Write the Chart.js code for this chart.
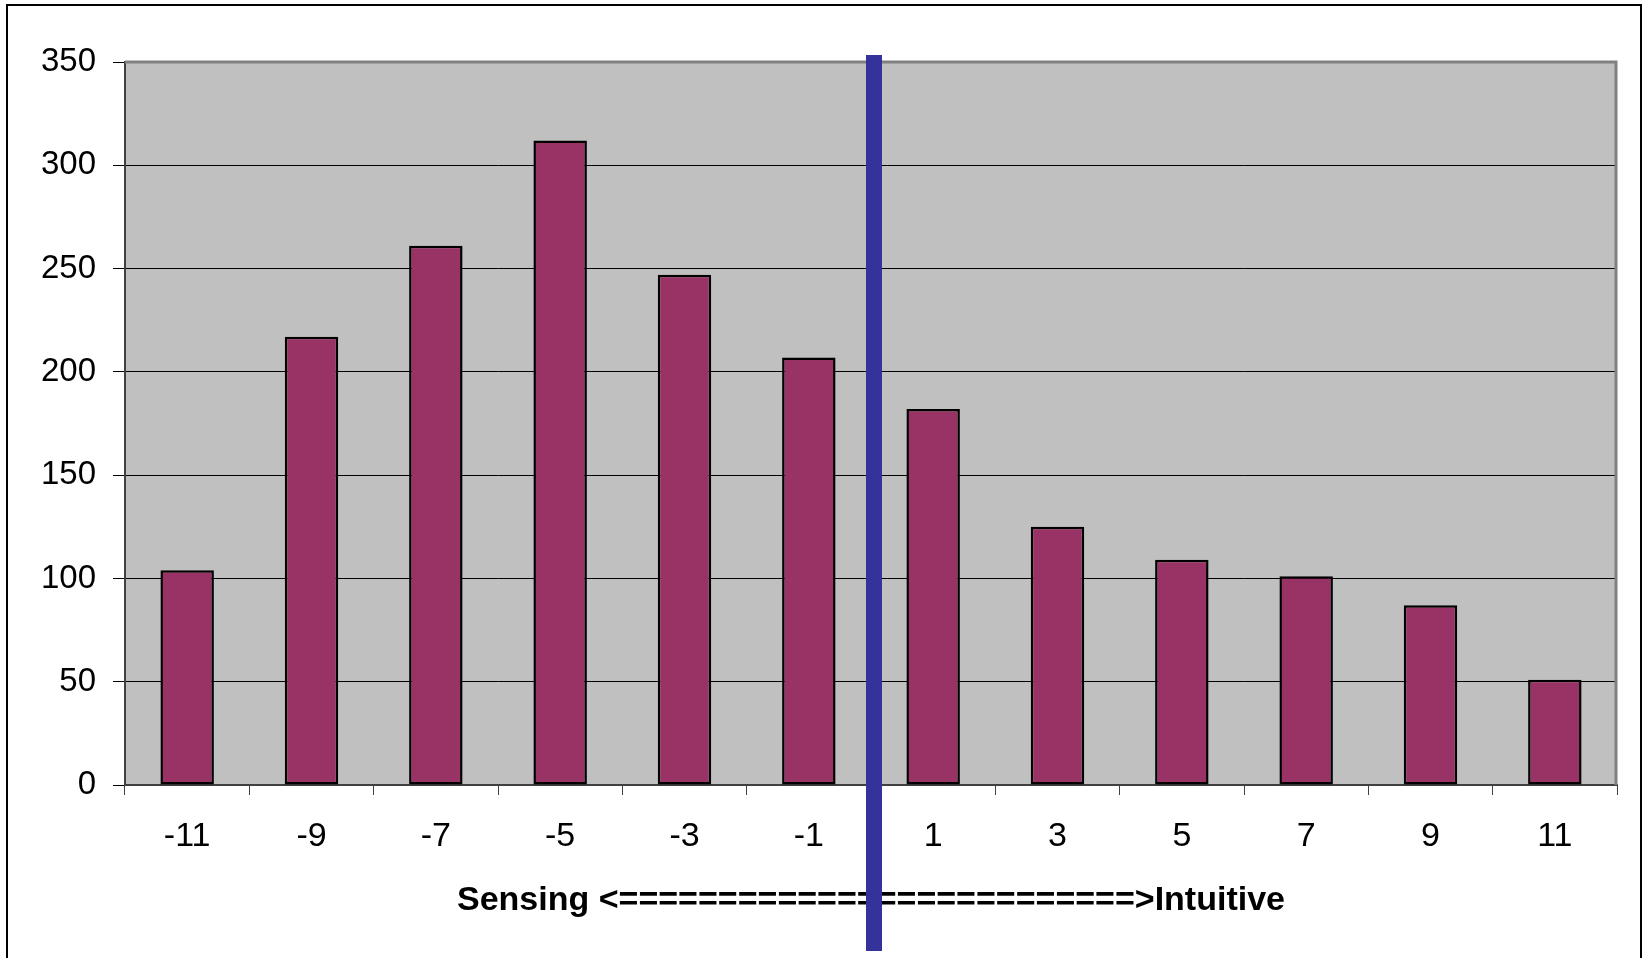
<!DOCTYPE html>
<html>
<head>
<meta charset="utf-8">
<title>Sensing – Intuitive distribution</title>
<script src="https://cdn.jsdelivr.net/npm/chart.js@4.4.1/dist/chart.umd.min.js"></script>
<style>
  html, body { margin: 0; padding: 0; background: #ffffff; overflow: hidden; }
  #wrap { position: relative; width: 1642px; height: 958px; }
</style>
</head>
<body>
<div id="wrap"><canvas id="chart"></canvas></div>
<script>
// Score categories along the Sensing / Intuitive scale
const categories = ['-11', '-9', '-7', '-5', '-3', '-1', '1', '3', '5', '7', '9', '11'];
// Number of respondents per score
const counts = [104, 217, 261, 312, 247, 207, 182, 125, 109, 101, 87, 51];
// Value axis range
const yMin = 0;
const yMax = 350;
const yStep = 50;
// Divider sits between these two scores
const dividerBetween = ['-1', '1'];
// Axis caption
const axisCaption = 'Sensing <' + '='.repeat(26) + '>Intuitive';

const FONT = "'Liberation Sans', Arial, Helvetica, sans-serif";

const framePlugin = {
  id: 'frame',
  beforeDraw(chart) {
    const { ctx, chartArea: a } = chart;
    ctx.save();
    // outer frame
    ctx.strokeStyle = '#000000';
    ctx.lineWidth = 2;
    ctx.strokeRect(7, 5, 1634, 980);
    // plot background
    ctx.fillStyle = '#C0C0C0';
    ctx.fillRect(a.left, a.top, a.right - a.left, a.bottom - a.top);
    ctx.restore();
  },
  beforeDatasetsDraw(chart) {
    const { ctx, chartArea: a } = chart;
    ctx.save();
    ctx.strokeStyle = '#808080';
    ctx.lineWidth = 3;
    ctx.beginPath();
    ctx.moveTo(a.left, a.top);
    ctx.lineTo(a.right - 1, a.top);
    ctx.lineTo(a.right - 1, a.bottom);
    ctx.stroke();
    ctx.restore();
  },
  afterDraw(chart) {
    const { ctx, chartArea: a } = chart;
    const x = chart.scales.x;
    const i0 = categories.indexOf(dividerBetween[0]);
    const i1 = categories.indexOf(dividerBetween[1]);
    const px = (x.getPixelForValue(i0) + x.getPixelForValue(i1)) / 2 + 3;
    ctx.save();
    ctx.fillStyle = '#333399';
    ctx.fillRect(px - 8, a.top - 7, 16, 951 - (a.top - 7));
    ctx.restore();
  }
};

new Chart(document.getElementById('chart'), {
  type: 'bar',
  data: {
    labels: categories,
    datasets: [{
      data: counts,
      backgroundColor: '#993366',
      borderColor: '#000000',
      borderWidth: 2.5,
      borderSkipped: false,
      categoryPercentage: 1.0,
      barPercentage: 0.43
    }]
  },
  options: {
    responsive: true,
    maintainAspectRatio: false,
    animation: false,
    devicePixelRatio: 1,
    layout: { padding: { left: 0, top: 62, right: 25, bottom: 0 } },
    plugins: {
      legend: { display: false },
      tooltip: { enabled: false },
      title: { display: false }
    },
    scales: {
      x: {
        afterFit(scale) { scale.height = 173; },
        grid: {
          offset: true,
          drawOnChartArea: false,
          drawTicks: true,
          tickLength: 10,
          color: '#404040',
          lineWidth: 1
        },
        border: { display: true, color: '#404040', width: 2 },
        ticks: {
          color: '#000000',
          font: { family: FONT, size: 34 },
          padding: 21,
          maxRotation: 0,
          autoSkip: false
        },
        title: {
          display: true,
          text: axisCaption,
          color: '#000000',
          font: { family: FONT, size: 34, weight: 'bold' },
          padding: { top: 0, bottom: 37 }
        }
      },
      y: {
        min: yMin,
        max: yMax,
        afterFit(scale) { scale.width = 125; },
        grid: {
          color: '#000000',
          lineWidth: 1,
          drawTicks: true,
          tickLength: 12,
          tickColor: '#000000'
        },
        border: { display: true, color: '#404040', width: 2 },
        ticks: {
          stepSize: yStep,
          color: '#000000',
          font: { family: FONT, size: 33 },
          padding: 17
        }
      }
    }
  },
  plugins: [framePlugin]
});
</script>
</body>
</html>
